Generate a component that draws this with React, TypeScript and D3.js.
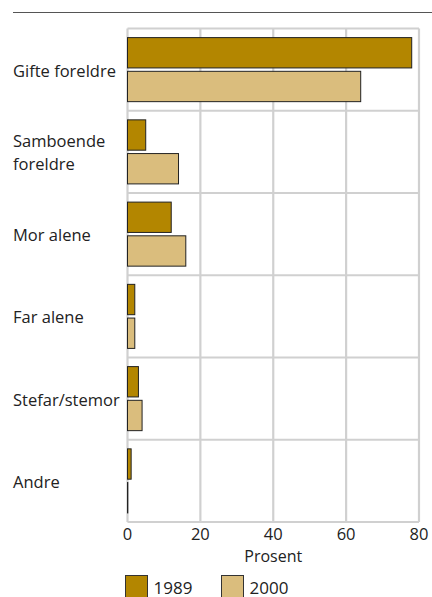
import React from "react";
import * as d3 from "d3";

const W = 432;
const H = 597;

const categories = ["Gifte foreldre", "Samboende\nforeldre", "Mor alene", "Far alene", "Stefar/stemor", "Andre"];
const series = ["1989", "2000"];
const values1989 = [78, 5, 12, 2, 3, 1];
const values2000 = [64, 14, 16, 2, 4, 0];
const xTicks = [0, 20, 40, 60, 80];

const colors: Record<string, string> = { "1989": "#b38600", "2000": "#dabd7d" };
const FONT = "'Open Sans', sans-serif";

const App = () => {
  const x = d3.scaleLinear().domain([0, 80]).range([127.5, 419]);
  const y = d3.scaleBand().domain(categories).range([28.5, 522]).paddingInner(0);
  const inner = d3
    .scaleBand()
    .domain(series)
    .range([0, y.bandwidth()])
    .paddingInner(0.1)
    .paddingOuter(0.27);

  const rows = categories.map((c, i) => ({ cat: c, "1989": values1989[i], "2000": values2000[i] }));

  return (
    <svg width={W} height={H} style={{ position: "absolute", left: 0, top: 0, background: "#fff" }} fontFamily={FONT}>
      <line x1={13} x2={432} y1={12.5} y2={12.5} stroke="#555" strokeWidth={1} />

      {/* grid */}
      {xTicks.map((t) => (
        <line key={"v" + t} x1={x(t)} x2={x(t)} y1={y.range()[0]} y2={y.range()[1]} stroke="#d0d0d0" strokeWidth={2.2} />
      ))}
      {categories.map((c) => (
        <line key={"h" + c} x1={x(0)} x2={x(80)} y1={y(c)} y2={y(c)} stroke="#d0d0d0" strokeWidth={2.2} />
      ))}
      <line x1={x(0)} x2={x(80)} y1={y.range()[1]} y2={y.range()[1]} stroke="#d0d0d0" strokeWidth={2.2} />

      {/* bars */}
      {rows.map((r) =>
        series.map((s) => (
          <rect
            key={r.cat + s}
            x={x(0)}
            y={(y(r.cat) as number) + (inner(s) as number)}
            width={Math.max(0.3, x((r as any)[s]) - x(0))}
            height={inner.bandwidth()}
            fill={colors[s]}
            stroke="#222"
            strokeWidth={1}
          />
        ))
      )}

      {/* category labels */}
      {categories.map((c) => {
        const lines = c.split("\n");
        const cy = (y(c) as number) + y.bandwidth() / 2;
        return (
          <text key={"l" + c} x={13} y={cy - ((lines.length - 1) * 23) / 2} fontSize={16.5} fill="#222" dominantBaseline="central">
            {lines.map((ln, i) => (
              <tspan key={i} x={13} dy={i === 0 ? 0 : 23}>
                {ln}
              </tspan>
            ))}
          </text>
        );
      })}

      {/* x ticks */}
      {xTicks.map((t) => (
        <text key={"t" + t} x={x(t)} y={540} textAnchor="middle" fontSize={16.5} fill="#222">
          {t}
        </text>
      ))}
      <text x={x(40)} y={562} textAnchor="middle" fontSize={16} fill="#222">
        Prosent
      </text>

      {/* legend */}
      {series.map((s, i) => (
        <g key={"lg" + s} transform={`translate(${125.5 + i * 96},575.5)`}>
          <rect width={22} height={22} fill={colors[s]} stroke="#333" strokeWidth={1} />
          <text x={28} y={18} fontSize={17} fill="#222">
            {s}
          </text>
        </g>
      ))}
    </svg>
  );
};

export default App;
